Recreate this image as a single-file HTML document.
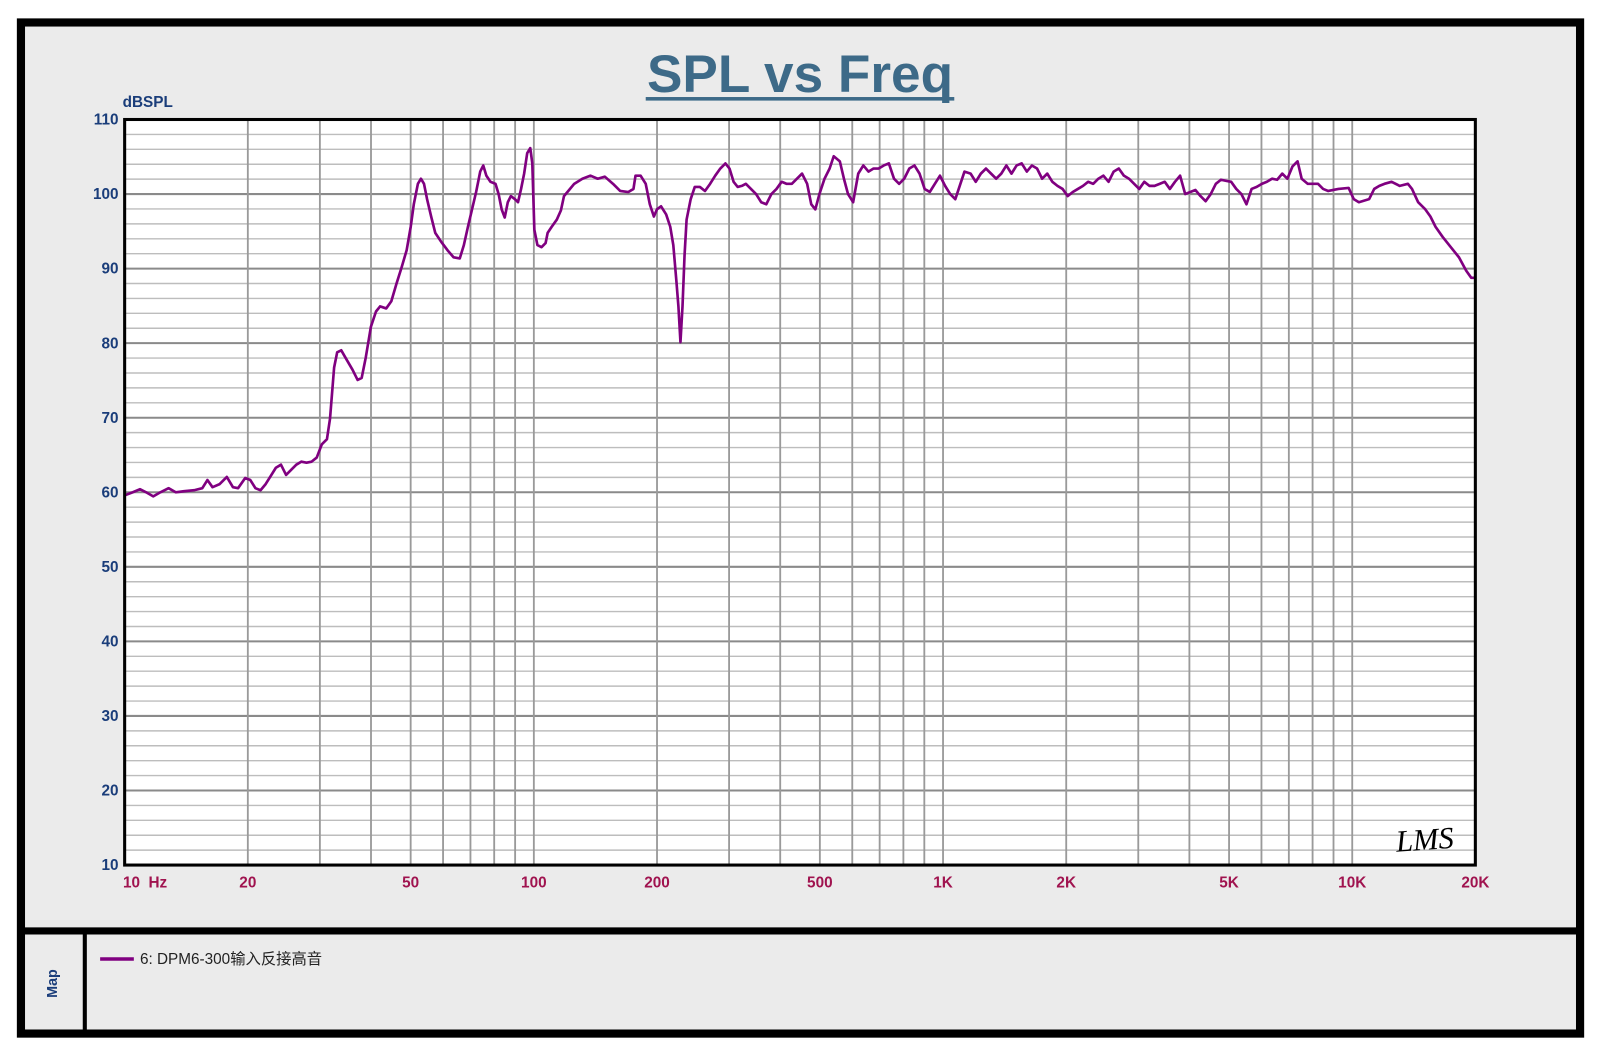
<!DOCTYPE html>
<html><head><meta charset="utf-8"><style>html,body{margin:0;padding:0;background:#fff}svg{display:block}</style></head>
<body>
<svg width="1600" height="1054" viewBox="0 0 1566 1032" preserveAspectRatio="none" xmlns="http://www.w3.org/2000/svg" font-family="Liberation Sans, sans-serif">
<rect x="0" y="0" width="1566" height="1032" fill="#fff"/>
<rect x="20.5" y="22" width="1526" height="990" fill="#ebebeb" stroke="#000" stroke-width="8"/>
<line x1="17" y1="911.5" x2="1550" y2="911.5" stroke="#000" stroke-width="7"/>
<line x1="83" y1="911" x2="83" y2="1012" stroke="#000" stroke-width="4"/>
<text x="783" y="90" text-anchor="middle" font-size="52" font-weight="bold" fill="#3d6a88">SPL vs Freq</text>
<rect x="632" y="95" width="302" height="3.5" fill="#3d6a88"/>
<rect x="122" y="117" width="1322" height="730" fill="#fff"/>
<g id="grid"></g>
<polyline id="curve" fill="none" stroke="#800080" stroke-width="2.6" stroke-linejoin="round" points=""/>
<rect x="122" y="117" width="1322" height="730" fill="none" stroke="#000" stroke-width="3"/>
<text x="120" y="105" font-size="15" font-weight="bold" fill="#1a3d7a">dBSPL</text>
<g id="ylab" font-size="15" font-weight="bold" fill="#1a3d7a" text-anchor="end"></g>
<g id="xlab" font-size="15" font-weight="bold" fill="#a0134f" text-anchor="middle"></g>
<text x="1366" y="832" font-size="30" font-style="italic" fill="#000" font-family="Liberation Serif, serif" transform="rotate(-4 1395 820)">LMS</text>
<line x1="98" y1="939" x2="131" y2="939" stroke="#800080" stroke-width="3.5"/>
<text x="137" y="944" font-size="15" fill="#222" font-family="Liberation Sans, Noto Sans CJK SC, sans-serif">6: DPM6-300输入反接高音</text>
<text transform="translate(56 963) rotate(-90)" text-anchor="middle" font-size="14" font-weight="bold" fill="#1a3d7a">Map</text>
</svg>
<script>
const NS="http://www.w3.org/2000/svg";
const X=f=>122+Math.log10(f/10)*400.5, Y=d=>117+(110-d)*7.3;
const g=document.getElementById('grid');
function ln(x1,y1,x2,y2,c,w){const l=document.createElementNS(NS,'line');l.setAttribute('x1',x1);l.setAttribute('y1',y1);l.setAttribute('x2',x2);l.setAttribute('y2',y2);l.setAttribute('stroke',c);l.setAttribute('stroke-width',w);g.appendChild(l);}
for(let d=12;d<110;d+=2){ln(122,Y(d),1444,Y(d),d%10==0?'#8a8a8a':'#bdbdbd',d%10==0?2:1.4);}
[10,100,1000,10000].forEach(b=>{for(let m=1;m<10;m++){const f=b*m;if(f>20000||f==10)continue;ln(X(f),117,X(f),847,'#9a9a9a',1.8);}});
const yl=document.getElementById('ylab');
for(let d=10;d<=110;d+=10){const t=document.createElementNS(NS,'text');t.setAttribute('x',116);t.setAttribute('y',Y(d)+5);t.textContent=d;yl.appendChild(t);}
const xl=document.getElementById('xlab');
[[10,'10  Hz',142],[20,'20'],[50,'50'],[100,'100'],[200,'200'],[500,'500'],[1000,'1K'],[2000,'2K'],[5000,'5K'],[10000,'10K'],[20000,'20K']].forEach(a=>{const t=document.createElementNS(NS,'text');t.setAttribute('x',a[2]||X(a[0]));t.setAttribute('y',869);t.setAttribute('xml:space','preserve');t.style.whiteSpace='pre';t.textContent=a[1];xl.appendChild(t);});
const p=[122,485,130,482,137,479,143,482,150,486,157,482,165,478,172,482,180,481,190,480,198,478,203,470,208,477,215,474,222,467,228,477,233,478,240,468,245,470,250,478,255,480,260,474,265,466,270,458,275,455,280,465,285,460,290,455,295,452,300,453,305,452,310,448,315,435,320,430,323,410,327,360,330,345,334,343,338,350,345,362,350,372,354,370,358,350,363,320,368,305,372,300,378,302,383,295,388,278,393,262,398,245,402,222,405,200,409,180,412,175,415,180,418,195,422,212,426,228,432,237,438,245,444,252,450,253,454,240,458,222,462,205,466,188,470,168,473,162,476,172,480,178,485,180,488,190,491,205,494,213,497,198,500,192,504,195,507,198,510,185,513,170,516,150,519,145,521,160,523,225,526,240,530,242,534,238,536,228,540,222,545,215,549,206,552,192,557,186,562,180,570,175,578,172,585,175,592,173,600,180,607,187,615,188,620,185,622,172,627,172,632,180,636,200,640,212,643,205,647,202,652,210,656,222,659,240,662,275,664,300,666,335,668,300,670,250,672,215,676,195,680,183,685,183,690,187,695,180,700,172,705,165,710,160,714,165,718,178,722,183,726,182,730,180,735,185,740,190,745,198,750,200,755,190,760,185,765,178,770,180,775,180,780,175,785,170,790,180,794,200,798,205,802,190,807,175,812,165,816,153,822,158,826,175,830,190,835,198,840,170,845,162,850,168,855,165,860,165,865,162,870,160,875,175,880,180,885,175,890,165,895,162,900,170,905,185,910,188,915,180,920,172,925,182,930,190,935,195,940,180,944,168,950,170,955,178,960,170,965,165,970,170,975,175,980,170,985,162,990,170,995,162,1000,160,1005,168,1010,162,1015,165,1020,175,1025,170,1030,178,1035,182,1040,185,1045,192,1050,188,1055,185,1060,182,1065,178,1070,180,1075,175,1080,172,1085,178,1090,168,1095,165,1100,172,1105,175,1110,180,1115,185,1120,178,1125,182,1130,182,1135,180,1140,178,1145,185,1150,178,1155,172,1160,190,1165,188,1170,186,1175,192,1180,197,1185,190,1190,180,1195,176,1200,177,1205,178,1210,185,1215,190,1220,200,1225,185,1230,183,1235,180,1240,178,1245,175,1250,176,1255,170,1260,175,1265,163,1270,158,1274,175,1280,180,1290,180,1295,185,1300,187,1310,185,1320,184,1325,195,1330,198,1340,195,1345,185,1350,182,1355,180,1362,178,1370,182,1378,180,1382,185,1388,198,1395,205,1400,212,1405,222,1412,232,1420,242,1428,252,1435,265,1440,272,1444,272];
let s='';for(let i=0;i<p.length;i+=2)s+=p[i]+','+p[i+1]+' ';
document.getElementById('curve').setAttribute('points',s);
</script>
</body></html>
